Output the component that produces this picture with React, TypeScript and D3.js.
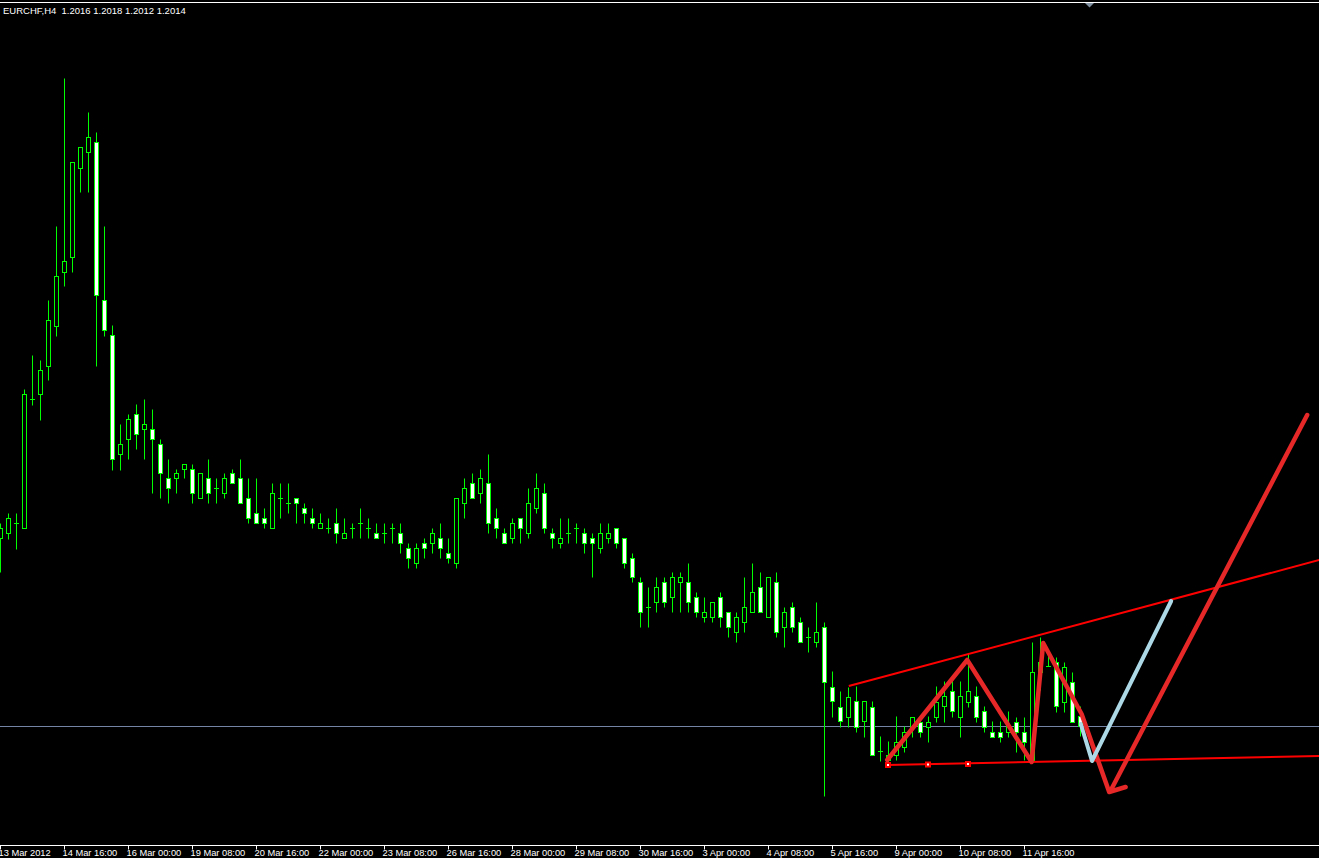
import React from "react";
import * as d3 from "d3";

const SYMBOL = "EURCHF,H4";
const HEADER_OHLC = ["1.2016", "1.2018", "1.2012", "1.2014"];

const OPEN = [1.20517,1.20527,1.20547,1.20537,1.20795,1.20805,1.20861,1.20941,1.21049,1.21079,
1.21257,1.21289,1.21309,1.20993,1.20923,1.20685,1.20715,1.20765,1.20735,1.20735,
1.20705,1.20637,1.20637,1.20655,1.20655,1.20597,1.20637,1.20617,1.20607,1.20647,
1.20637,1.20597,1.20567,1.20557,1.20537,1.20597,1.20587,1.20597,1.20577,1.20557,
1.20537,1.20537,1.20547,1.20517,1.20537,1.20547,1.20537,1.20527,1.20527,1.20537,
1.20527,1.20497,1.20467,1.20507,1.20507,1.20517,1.20487,1.20467,1.20587,1.20627,
1.20607,1.20627,1.20557,1.20527,1.20517,1.20557,1.20527,1.20577,1.20607,1.20527,
1.20507,1.20527,1.20537,1.20527,1.20517,1.20497,1.20517,1.20537,1.20517,1.20477,
1.20429,1.20379,1.20389,1.20429,1.20399,1.20429,1.20429,1.20399,1.20359,1.20359,
1.20399,1.20369,1.20329,1.20349,1.20369,1.20419,1.20359,1.20429,1.20339,1.20379,
1.20349,1.20319,1.20309,1.20339,1.20219,1.20179,1.20159,1.20191,1.20151,1.20179,
1.20091,1.20073,1.20083,1.20099,1.20139,1.20149,1.20139,1.20159,1.20181,1.20211,
1.20159,1.20189,1.20201,1.20171,1.20129,1.20129,1.20129,1.20149,1.20129,1.20073,
1.20249,1.20261,1.20269,1.20189,1.20229,1.2016];

const HIGH = [1.20547,1.20567,1.20567,1.20815,1.20883,1.20873,1.20993,1.21141,1.21437,1.21269,
1.21299,1.21369,1.21329,1.21141,1.20943,1.20745,1.20765,1.20785,1.20795,1.20775,
1.20715,1.20675,1.20655,1.20665,1.20665,1.20647,1.20675,1.20637,1.20647,1.20655,
1.20675,1.20637,1.20637,1.20577,1.20627,1.20627,1.20627,1.20597,1.20587,1.20577,
1.20567,1.20557,1.20577,1.20557,1.20547,1.20577,1.20557,1.20547,1.20547,1.20547,
1.20547,1.20507,1.20507,1.20517,1.20537,1.20547,1.20517,1.20597,1.20637,1.20647,
1.20655,1.20685,1.20577,1.20537,1.20557,1.20557,1.20617,1.20647,1.20627,1.20537,
1.20557,1.20557,1.20547,1.20537,1.20527,1.20547,1.20547,1.20537,1.20517,1.20487,
1.20439,1.20419,1.20439,1.20439,1.20449,1.20449,1.20467,1.20409,1.20399,1.20389,
1.20409,1.20369,1.20369,1.20439,1.20467,1.20449,1.20439,1.20449,1.20379,1.20389,
1.20359,1.20339,1.20389,1.20349,1.20251,1.20211,1.20219,1.20221,1.20191,1.20191,
1.20121,1.20111,1.20161,1.20141,1.20159,1.20159,1.20161,1.20221,1.20231,1.20241,
1.20231,1.20287,1.20221,1.20181,1.20151,1.20151,1.20171,1.20159,1.20159,1.20309,
1.20319,1.20293,1.20279,1.20269,1.20249,1.2018];

const LOW = [1.20449,1.20515,1.20495,1.20537,1.20783,1.20753,1.20833,1.20921,1.21021,1.21049,
1.21209,1.21209,1.20861,1.20921,1.20653,1.20653,1.20675,1.20695,1.20675,1.20607,
1.20597,1.20587,1.20607,1.20637,1.20587,1.20597,1.20587,1.20587,1.20597,1.20627,
1.20587,1.20547,1.20547,1.20537,1.20537,1.20557,1.20567,1.20547,1.20547,1.20537,
1.20537,1.20527,1.20507,1.20517,1.20517,1.20517,1.20517,1.20517,1.20507,1.20507,
1.20487,1.20457,1.20457,1.20477,1.20487,1.20477,1.20467,1.20457,1.20557,1.20597,
1.20587,1.20527,1.20517,1.20507,1.20507,1.20507,1.20517,1.20567,1.20527,1.20497,
1.20497,1.20507,1.20507,1.20487,1.20439,1.20487,1.20507,1.20497,1.20457,1.20429,
1.20339,1.20339,1.20369,1.20379,1.20369,1.20369,1.20369,1.20359,1.20349,1.20349,
1.20339,1.20319,1.20309,1.20329,1.20369,1.20369,1.20359,1.20319,1.20299,1.20329,
1.20309,1.20289,1.20299,1.20001,1.20159,1.20139,1.20139,1.20129,1.20119,1.20083,
1.20071,1.20067,1.20073,1.20089,1.20119,1.20119,1.20109,1.20149,1.20149,1.20159,
1.20119,1.20179,1.20149,1.20129,1.20119,1.20109,1.20119,1.20089,1.20073,1.20069,
1.20213,1.20261,1.20169,1.20169,1.20149,1.2012];

const CLOSE = [1.20537,1.20557,1.20547,1.20805,1.20795,1.20853,1.20953,1.21041,1.21071,1.21269,
1.21299,1.21319,1.21003,1.20933,1.20675,1.20705,1.20755,1.20725,1.20745,1.20715,
1.20647,1.20617,1.20647,1.20665,1.20607,1.20647,1.20607,1.20617,1.20637,1.20627,
1.20587,1.20557,1.20547,1.20547,1.20607,1.20597,1.20587,1.20587,1.20567,1.20547,
1.20547,1.20537,1.20527,1.20527,1.20537,1.20547,1.20537,1.20517,1.20527,1.20537,
1.20507,1.20477,1.20497,1.20497,1.20527,1.20497,1.20477,1.20597,1.20617,1.20597,
1.20637,1.20547,1.20537,1.20507,1.20547,1.20537,1.20587,1.20617,1.20537,1.20517,
1.20517,1.20527,1.20537,1.20507,1.20507,1.20527,1.20527,1.20507,1.20467,1.20439,
1.20369,1.20379,1.20419,1.20389,1.20439,1.20439,1.20389,1.20369,1.20369,1.20389,
1.20359,1.20339,1.20359,1.20379,1.20409,1.20369,1.20439,1.20329,1.20369,1.20339,
1.20309,1.20319,1.20329,1.20229,1.20191,1.20151,1.20199,1.20139,1.20191,1.20083,
1.20091,1.20083,1.20109,1.20129,1.20159,1.20129,1.20149,1.20189,1.20201,1.20171,
1.20201,1.20211,1.20159,1.20139,1.20119,1.20119,1.20141,1.20129,1.20109,1.20249,
1.20269,1.20261,1.20181,1.20259,1.20149,1.2014];

const TIME_LABELS = ["13 Mar 2012","14 Mar 16:00","16 Mar 00:00","19 Mar 08:00","20 Mar 16:00",
"22 Mar 00:00","23 Mar 08:00","26 Mar 16:00","28 Mar 00:00","29 Mar 08:00","30 Mar 16:00",
"3 Apr 00:00","4 Apr 08:00","5 Apr 16:00","9 Apr 00:00","10 Apr 08:00","11 Apr 16:00"];
const BARS_PER_LABEL = 8;

const BID = 1.2014;

// drawn objects: [bar index, price]
const UPPER_TREND = [[106.1, 1.20221], [164.9, 1.20473]];
const LOWER_TREND = [[110.9, 1.20063], [164.9, 1.20081]];
const ANCHORS = [[111, 1.20063], [116, 1.20064], [121, 1.20065]];
const ZIGZAG = [[110.9, 1.20073], [120.9, 1.20273], [128.95, 1.20069], [130.4, 1.20307], [135.2, 1.20165], [138.65, 1.20009], [140.7, 1.20019]];
const ARROW_UP = [[139.0, 1.20017], [163.4, 1.20763]];
const BLUE_PATH = [[135.1, 1.20145], [136.5, 1.20071], [146.4, 1.20391]];

const W = 1319, H = 858;

export default function App() {
  const x = d3.scaleLinear().domain([0, 1]).range([0, 8]);
  const y = d3.scaleLinear().domain([1.21593, 1.20593]).range([0, 500]);
  const px = (i: number) => Math.round(x(i)) + 0.5;
  const py = (p: number) => Math.round(y(p)) + 0.5;
  const line = d3.line<number[]>().x((d) => x(d[0])).y((d) => y(d[1]));

  const candles = OPEN.map((o, i) => {
    const c = CLOSE[i];
    const cx = px(i);
    const yo = py(o), yc = py(c);
    const top = Math.min(yo, yc), bot = Math.max(yo, yc);
    const doji = bot - top < 0.5;
    return (
      <g key={i}>
        <line x1={cx} x2={cx} y1={py(HIGH[i])} y2={py(LOW[i])} stroke="#00ff00" strokeWidth={1} />
        {doji ? (
          <line x1={cx - 2.5} x2={cx + 2.5} y1={top} y2={top} stroke="#00ff00" strokeWidth={1} />
        ) : (
          <rect x={cx - 2} y={top} width={4} height={bot - top} fill={c < o ? "#ffffff" : "#000000"} stroke="#00ff00" strokeWidth={1} />
        )}
      </g>
    );
  });

  const axisY = 845.5;
  const ff = "'Liberation Sans', Arial, sans-serif";

  return (
    <svg width={W} height={H} style={{ position: "absolute", left: 0, top: 0, display: "block", background: "#000" }}>
      <rect x={0} y={0} width={W} height={H} fill="#000" />
      <line x1={0} x2={W} y1={2.5} y2={2.5} stroke="#ffffff" strokeWidth={1} />
      <polygon points="1085,3 1094,3 1089.5,7.5" fill="#7f8f9f" />
      <text x={3} y={14} fill="#ffffff" fontFamily={ff} fontSize={9.5} style={{ whiteSpace: "pre" }}>
        {SYMBOL + "\u00a0\u00a0" + HEADER_OHLC.join(" ")}
      </text>
      <line x1={0} x2={W} y1={py(BID)} y2={py(BID)} stroke="#7484a4" strokeWidth={1} />
      {candles}
      <path d={line(UPPER_TREND) || ""} stroke="#ff0000" strokeWidth={2} fill="none" />
      <path d={line(LOWER_TREND) || ""} stroke="#ff0000" strokeWidth={2} fill="none" />
      {ANCHORS.map((a, i) => (
        <g key={i}>
          <rect x={x(a[0]) - 3} y={y(a[1]) - 3} width={6} height={6} fill="#ff0000" />
          <rect x={x(a[0]) - 1} y={y(a[1]) - 1} width={2} height={2} fill="#ffffff" />
        </g>
      ))}
      <path d={line(ZIGZAG) || ""} stroke="#e62828" strokeWidth={4.5} fill="none" strokeLinejoin="round" strokeLinecap="round" />
      <path d={line(ARROW_UP) || ""} stroke="#e62828" strokeWidth={4.5} fill="none" strokeLinecap="round" />
      <path d={line(BLUE_PATH) || ""} stroke="#add8e6" strokeWidth={4} fill="none" strokeLinejoin="round" strokeLinecap="round" />
      <line x1={0} x2={W} y1={axisY} y2={axisY} stroke="#ffffff" strokeWidth={1} />
      {TIME_LABELS.map((t, j) => {
        const tx = px(j * BARS_PER_LABEL);
        return (
          <g key={t}>
            <line x1={tx} x2={tx} y1={axisY} y2={axisY + 4} stroke="#ffffff" strokeWidth={1} />
            <text x={tx - 2} y={856} fill="#ffffff" fontFamily={ff} fontSize={9.3}>{t}</text>
          </g>
        );
      })}
    </svg>
  );
}
